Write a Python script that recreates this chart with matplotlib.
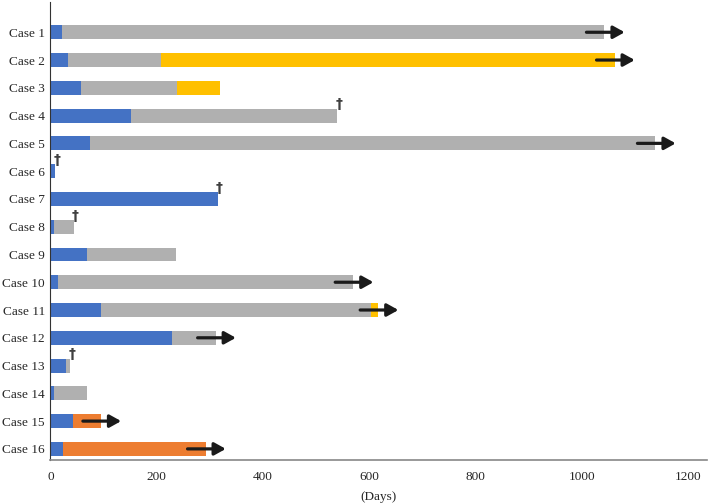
import matplotlib.pyplot as plt
import numpy as np

# Phase durations in days
cases = ['Case %d' % i for i in range(1, 17)]
blue = [22, 33, 57, 152, 74, 9, 315, 7, 69, 14, 95, 228, 29, 7, 43, 24]
grey = [1021, 175, 181, 388, 1065, 0, 0, 37, 167, 556, 508, 83, 8, 61, 0, 0]
yellow = [0, 854, 81, 0, 0, 0, 0, 0, 0, 0, 14, 0, 0, 0, 0, 0]
orange = [0, 0, 0, 0, 0, 0, 0, 0, 0, 0, 0, 0, 0, 0, 52, 268]
ongoing = [1, 1, 0, 0, 1, 0, 0, 0, 0, 1, 1, 1, 0, 0, 1, 1]
died = [0, 0, 0, 1, 0, 1, 1, 1, 0, 0, 0, 0, 1, 0, 0, 0]

c_blue = '#4472C4'
c_grey = '#B0B0B0'
c_yellow = '#FFC000'
c_orange = '#ED7D31'

plt.rcParams['font.family'] = 'Liberation Serif'

fig = plt.figure(figsize=(7.09, 5.03), dpi=100)
ax = fig.add_axes([0.0712, 0.0855, 0.926, 0.91])

y = np.arange(len(cases))
h = 0.5
left = np.zeros(len(cases))
for vals, col in [(blue, c_blue), (grey, c_grey), (yellow, c_yellow), (orange, c_orange)]:
    ax.barh(y, vals, left=left, height=h, color=col)
    left = left + np.array(vals)

total = left
for i in range(len(cases)):
    if ongoing[i]:
        ax.annotate('', xy=(total[i] + 38, y[i]), xytext=(total[i] - 34, y[i]),
                    arrowprops=dict(arrowstyle='-|>,head_length=0.45,head_width=0.25',
                                    lw=2.3, color='#1a1a1a',
                                    mutation_scale=15, shrinkA=0, shrinkB=0))
    if died[i]:
        ax.text(total[i] + 3, y[i] - 0.4, '\u2020', fontsize=10, fontweight='bold',
                color='#404040', ha='center', va='center', family='DejaVu Sans')

ax.set_yticks(y)
ax.set_yticklabels(cases, fontsize=9.5, color='#262626')
ax.set_ylim(15.4, -1.08)
ax.set_xlim(0, 1236)
ax.set_xticks([0, 200, 400, 600, 800, 1000, 1200])
ax.tick_params(axis='x', length=0, labelsize=9.5, labelcolor='#262626', pad=8)
ax.tick_params(axis='y', length=0, pad=4)
ax.set_xlabel('(Days)', fontsize=9.5, color='#262626', labelpad=6)

ax.spines['top'].set_visible(False)
ax.spines['right'].set_visible(False)
ax.spines['left'].set_color('#333333')
ax.spines['bottom'].set_color('#888888')
ax.spines['bottom'].set_linewidth(1.2)

plt.savefig('out.png', dpi=100)
